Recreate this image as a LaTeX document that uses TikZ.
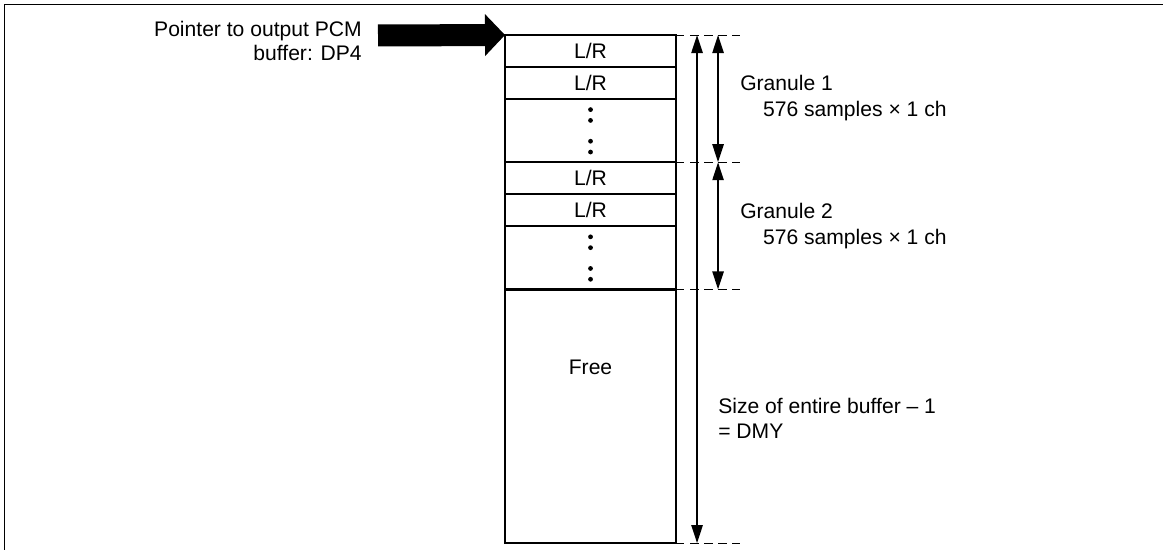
\documentclass[tikz,border=0pt]{standalone}
\usepackage{fontspec}
\setmainfont{Liberation Sans}
\usetikzlibrary{arrows.meta,positioning}

\begin{document}
\begin{tikzpicture}[
    x=0.025cm, y=-0.025cm,
    node distance=0pt,
    cell/.style={draw, line width=1.5pt, outer sep=0pt, inner sep=0pt,
      minimum width=4.275cm, font=\fontsize{15}{15.6}\selectfont},
    lrcell/.style={cell, minimum height=0.795cm},
    dotcell/.style={cell, minimum height=1.59cm},
    freecell/.style={cell, minimum height=6.34cm},
    note/.style={inner sep=0pt, align=left, font=\fontsize{15}{15.6}\selectfont},
    guide/.style={dashed, dash pattern=on 6pt off 4pt, line width=0.6pt},
    dim/.style={{Triangle[length=0.45cm,width=0.28cm]}-{Triangle[length=0.45cm,width=0.28cm]}, line width=1.4pt},
    pointer/.style={-{Triangle[length=0.5cm,width=1.05cm,line width=0pt]}, line width=0.55cm}
  ]
    \useasboundingbox (0,0) rectangle (1163,550);
    \draw[line width=1.4pt] (4.5,550) -- (4.5,4.5) -- (1163,4.5);

    \node[lrcell, anchor=north west] (lr1) at (505,35) {L/R};
    \node[lrcell, below=of lr1] (lr2) {L/R};
    \node[dotcell, below=of lr2] (dots1) {};
    \node[lrcell, below=of dots1] (lr3) {L/R};
    \node[lrcell, below=of lr3] (lr4) {L/R};
    \node[dotcell, below=of lr4] (dots2) {};
    \node[freecell, below=of dots2] (free) {};
    \node[note] (freetxt) at ([yshift=1.23cm]free.center) {Free};
    \foreach \d in {dots1,dots2}
      \foreach \o in {-0.54,-0.27,0.25,0.52}
        \fill ([yshift=\o cm]\d.center) circle (1.7pt);

    \coordinate (ptr) at (378,35.5);
    \draw[pointer] (ptr) -- (lr1.north west);
    \node[note, align=right, anchor=east] (ptrtxt) at (362,41)
      {Pointer to output PCM\\[1.5pt]buffer: DP4};

    \draw[guide] (lr1.north east) -- ++(64,0);
    \draw[guide] (lr3.north east) -- ++(64,0);
    \draw[guide] (free.north east) -- ++(64,0);
    \draw[guide] (free.south east) -- ++(64,0);

    \draw[dim] ([xshift=0.525cm]lr1.north east) -- ([xshift=0.525cm]free.south east);
    \draw[dim] ([xshift=1.05cm]lr1.north east) -- ([xshift=1.05cm]lr3.north east);
    \draw[dim] ([xshift=1.05cm]lr3.north east) -- ([xshift=1.05cm]free.north east);

    \node[note, anchor=west] (gran1) at (740,98)
      {Granule 1\\[3pt]\hspace*{0.57cm}576 samples × 1 ch};
    \node[note, anchor=west] (gran2) at (740,226)
      {Granule 2\\[3pt]\hspace*{0.57cm}576 samples × 1 ch};
    \node[note, anchor=west] (total) at (718,418)
      {Size of entire buffer – 1\\[2pt]= DMY};
  \end{tikzpicture}
\end{document}
